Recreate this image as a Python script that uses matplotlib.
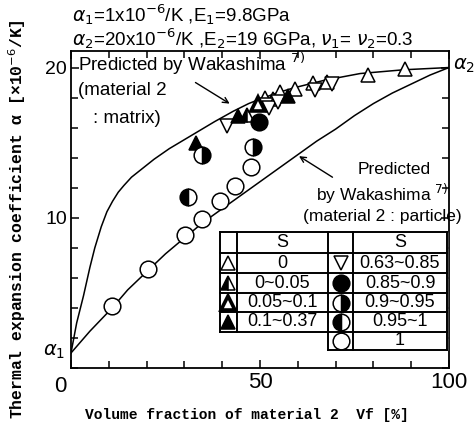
import matplotlib
matplotlib.use("Agg")
import matplotlib.pyplot as plt
from matplotlib.ticker import MultipleLocator

plt.rcParams['font.family'] = ['Liberation Sans', 'DejaVu Sans']

# predicted curves
matrix_x = [0, 1.5, 3.3, 5, 6.3, 8, 9.5, 11, 12.5, 14, 16, 19, 22, 26, 30, 34, 38, 43, 47, 50,
            55, 59, 67, 76.5, 88, 100]
matrix_y = [1, 3.0, 4.8, 6.7, 8.0, 9.4, 10.4, 11.1, 11.7, 12.15, 12.7, 13.3, 13.9, 14.6, 15.2,
            15.8, 16.4, 17.1, 17.6, 17.9, 18.35, 18.65, 19.15, 19.6, 19.85, 20]
particle_x = [0, 5, 10.9, 15, 20.4, 25, 30.2, 35, 40, 45, 50, 55, 60, 65, 70, 75, 80, 85, 90, 95, 100]
particle_y = [1, 2.45, 4.0, 5.2, 6.5, 7.6, 8.7, 9.7, 10.6, 11.5, 12.4, 13.3, 14.2, 15.1, 15.9,
              16.8, 17.6, 18.3, 18.9, 19.5, 20]

# measured points, grouped by S
tri_open_x = [51.3, 53.5, 55.3, 59.3, 64.1, 67.6, 78.7, 88.4]
tri_open_y = [18.0, 17.9, 18.35, 18.55, 18.97, 19.06, 19.5, 19.9]
tri_left_x = [46.5]
tri_left_y = [16.85]
tri_thick_x = [49.6]
tri_thick_y = [17.6]
tri_full_x = [33.2, 44.3, 57.5]
tri_full_y = [15.0, 16.75, 18.1]
tri_down_x = [41.2, 51.6, 52.5, 54.8, 64.6, 69.0]
tri_down_y = [16.1, 17.5, 17.3, 17.7, 18.5, 18.9]
circ_full_x = [49.8]
circ_full_y = [16.4]
circ_right_x = [34.6, 48.1]
circ_right_y = [14.2, 14.7]
circ_left_x = [31.0]
circ_left_y = [11.4]
circ_open_x = [10.9, 20.4, 30.2, 34.6, 39.3, 43.5, 47.7]
circ_open_y = [4.1, 6.6, 8.85, 9.9, 11.1, 12.1, 13.4]

left_labels = ['0', '0~0.05', '0.05~0.1', '0.1~0.37']
right_labels = ['0.63~0.85', '0.85~0.9', '0.9~0.95', '0.95~1', '1']
left_kinds = ['tri_open', 'tri_left', 'tri_thick', 'tri_full']
right_kinds = ['tri_down', 'circ_full', 'circ_right', 'circ_left', 'circ_open']


def style(kind):
    s = dict(linestyle='none', color='black', mec='black', mew=1.1)
    if kind.startswith('tri'):
        s['marker'] = 'v' if kind == 'tri_down' else '^'
        s['ms'] = 10
    else:
        s['marker'] = 'o'
        s['ms'] = 12
    if kind in ('tri_open', 'tri_down', 'circ_open'):
        s['mfc'] = 'white'
    elif kind == 'tri_thick':
        s['mfc'] = 'white'
        s['mew'] = 2.6
    elif kind in ('tri_left', 'circ_left'):
        s['mfc'] = 'black'
        s['fillstyle'] = 'left'
        s['markerfacecoloralt'] = 'white'
    elif kind == 'circ_right':
        s['mfc'] = 'black'
        s['fillstyle'] = 'right'
        s['markerfacecoloralt'] = 'white'
    else:
        s['mfc'] = 'black'
    return s


fig = plt.figure(figsize=(4.76, 4.23), dpi=100)
ax = fig.add_axes([71/476, 1-368/423, 378/476, 317/423])

ax.plot(matrix_x, matrix_y, color='black', lw=1.1)
ax.plot(particle_x, particle_y, color='black', lw=1.1)

groups = [(tri_open_x, tri_open_y, 'tri_open'), (tri_down_x, tri_down_y, 'tri_down'),
          (tri_left_x, tri_left_y, 'tri_left'), (tri_thick_x, tri_thick_y, 'tri_thick'),
          (tri_full_x, tri_full_y, 'tri_full'), (circ_full_x, circ_full_y, 'circ_full'),
          (circ_right_x, circ_right_y, 'circ_right'), (circ_left_x, circ_left_y, 'circ_left'),
          (circ_open_x, circ_open_y, 'circ_open')]
for gx, gy, k in groups:
    ax.plot(gx, gy, **style(k), zorder=3)

ax.set_xlim(0, 100)
ax.set_ylim(0, 21.1)
ax.set_xticks([0, 50, 100])
ax.set_xticklabels(['', '50', '100'], fontsize=16)
ax.set_yticks([10, 20])
ax.set_yticklabels(['10', '20'], fontsize=14)
ax.xaxis.set_minor_locator(MultipleLocator(10))
ax.yaxis.set_minor_locator(MultipleLocator(2))
ax.tick_params(which='both', direction='in', top=True, right=True, width=1.1, pad=3)
ax.tick_params(which='major', length=6)
ax.tick_params(which='minor', length=5)
for sp in ax.spines.values():
    sp.set_linewidth(1.3)

ax.text(-1.2, -0.5, '0', fontsize=16, ha='right', va='top')
ax.text(-1.5, 1.1, r'$\alpha_1$', fontsize=14, ha='right', va='center')
ax.text(101, 20.1, r'$\alpha_2$', fontsize=14, ha='left', va='center')

mono = ['Liberation Mono', 'DejaVu Sans Mono']
ax.set_xlabel('Volume fraction of material 2  Vf [%]', family=mono, weight='bold', fontsize=10.5)
ax.set_ylabel(r'Thermal expansion coefficient α [×10$^{-6}$/K]', family=mono, weight='bold',
              fontsize=11.8)
ax.xaxis.set_label_coords(0.466, -0.126)
ax.yaxis.set_label_coords(-0.115, 0.47)

# annotations
ax.text(1.9, 20.25, r'Predicted by Wakashima $^{7)}$', fontsize=13.5, va='center')
ax.text(1.9, 18.5, '(material 2', fontsize=13.5, va='center')
ax.text(5.8, 16.6, ': matrix)', fontsize=13.5, va='center')
ax.annotate('', xy=(42.6, 17.5), xytext=(32.3, 19.1),
            arrowprops=dict(arrowstyle='->', color='black', lw=1.0))

ax.text(75.7, 13.2, 'Predicted', fontsize=12.5, va='center')
ax.text(64.8, 11.6, r'by Wakashima $^{7)}$', fontsize=12.5, va='center')
ax.text(61.4, 10.1, '(material 2 : particle)', fontsize=12.5, va='center', clip_on=False)
ax.annotate('', xy=(59.7, 14.2), xytext=(69.8, 12.6),
            arrowprops=dict(arrowstyle='->', color='black', lw=1.0))

# header
fig.text(72/476, 1-15/423, r'$\alpha_1$=1x10$^{-6}$/K ,E$_1$=9.8GPa', fontsize=13.5, va='center')
fig.text(72/476, 1-39/423, r'$\alpha_2$=20x10$^{-6}$/K ,E$_2$=19 6GPa, $\nu_1$= $\nu_2$=0.3',
         fontsize=13.5, va='center')

# legend table in pixel coordinates
lg = fig.add_axes([0, 0, 1, 1])
lg.set_xlim(0, 476)
lg.set_ylim(423, 0)
lg.axis('off')
cols = [220, 236.7, 328.3, 353.3, 446.7]
rows = [231.7, 253.3, 273.3, 293.3, 312.3, 331.7, 350]
lw = 1.4
lg.fill([220, 446.7, 446.7, 328.3, 328.3, 220], [231.7, 231.7, 350, 350, 331.7, 331.7],
        color='white', zorder=1)
for r in rows[:6]:
    lg.plot([220, 446.7], [r, r], color='black', lw=lw, zorder=2)
lg.plot([328.3, 446.7], [350, 350], color='black', lw=lw, zorder=2)
for c in [220, 236.7]:
    lg.plot([c, c], [231.7, 331.7], color='black', lw=lw, zorder=2)
for c in [328.3, 353.3, 446.7]:
    lg.plot([c, c], [231.7, 350], color='black', lw=lw, zorder=2)

lg.text(282.5, 242.5, 'S', fontsize=13, ha='center', va='center')
lg.text(400, 242.5, 'S', fontsize=13, ha='center', va='center')
for i, (lab, k) in enumerate(zip(left_labels, left_kinds)):
    yc = (rows[i+1] + rows[i+2]) / 2
    lg.plot([228.3], [yc], **style(k), zorder=3)
    lg.text(282.5, yc, lab, fontsize=13, ha='center', va='center')
for i, (lab, k) in enumerate(zip(right_labels, right_kinds)):
    yc = (rows[i+1] + rows[i+2]) / 2
    lg.plot([340.8], [yc], **style(k), zorder=3)
    lg.text(400, yc, lab, fontsize=13, ha='center', va='center')

fig.savefig('out.png', dpi=100)
